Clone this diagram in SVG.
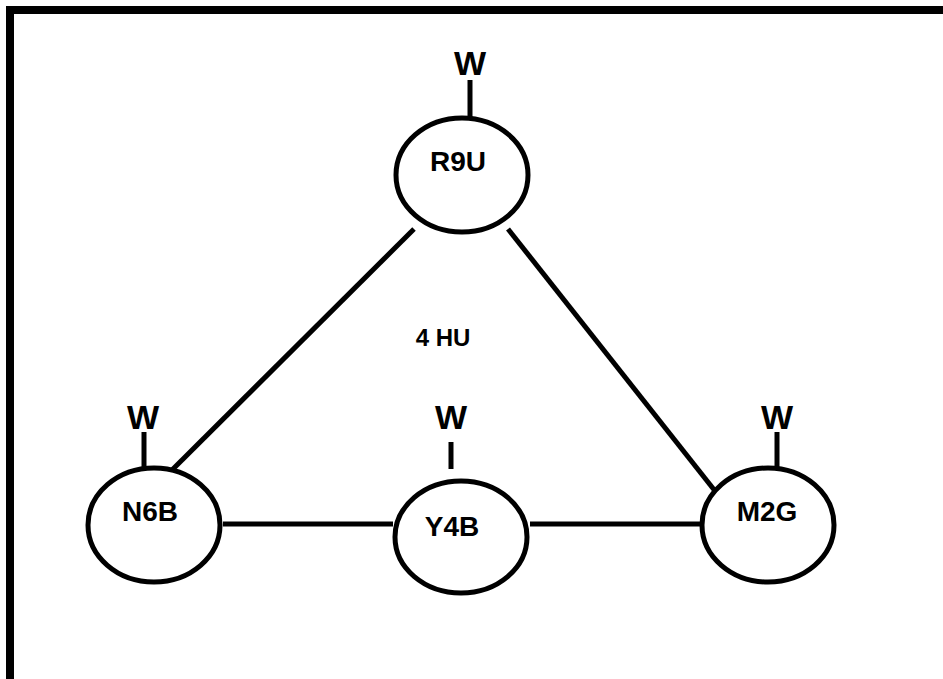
<svg xmlns="http://www.w3.org/2000/svg" width="943" height="679" viewBox="0 0 943 679">
<style>
.n{fill:#fff;stroke:#000;stroke-width:5}
.l{stroke:#000;stroke-width:5;fill:none}
.t{font-family:"Liberation Sans",Arial,sans-serif;font-weight:bold;text-anchor:middle;fill:#000}
.lab{font-size:28px}
.w{font-size:34px}
</style>
<rect x="0" y="0" width="943" height="679" fill="#fff"/>
<rect x="10" y="10" width="1000" height="1000" fill="none" stroke="#000" stroke-width="8"/>
<g id="connectors">
<line class="l" x1="223" y1="524" x2="393" y2="524"/>
<line class="l" x1="530" y1="524" x2="700" y2="524"/>
<line class="l" x1="414" y1="229" x2="166" y2="476"/>
<line class="l" x1="160" y1="470" x2="171" y2="481"/>
<line class="l" x1="508" y1="229" x2="719" y2="496"/>
<line class="l" x1="713" y1="501" x2="724" y2="492"/>
</g>
<g id="R9U">
<ellipse class="n" cx="462" cy="175" rx="66" ry="57"/>
<line class="l" x1="470" y1="80" x2="470" y2="118"/>
<text class="t w" x="470" y="75">W</text>
<text class="t lab" x="458" y="171">R9U</text>
</g>
<g id="N6B">
<ellipse class="n" cx="154" cy="525" rx="66" ry="57"/>
<line class="l" x1="144" y1="432" x2="144" y2="468"/>
<text class="t w" x="143" y="429">W</text>
<text class="t lab" x="150" y="521">N6B</text>
</g>
<g id="Y4B">
<ellipse class="n" cx="461" cy="537" rx="66" ry="56"/>
<line class="l" x1="451" y1="442" x2="451" y2="469"/>
<text class="t w" x="451" y="429">W</text>
<text class="t lab" x="452" y="536">Y4B</text>
</g>
<g id="M2G">
<ellipse class="n" cx="768" cy="525" rx="66" ry="57"/>
<line class="l" x1="777" y1="432" x2="777" y2="468"/>
<text class="t w" x="777" y="429">W</text>
<text class="t lab" x="767" y="521">M2G</text>
</g>
<g id="label-4HU">
<text class="t" style="font-size:24px" x="443" y="346">4 HU</text>
</g>
</svg>
